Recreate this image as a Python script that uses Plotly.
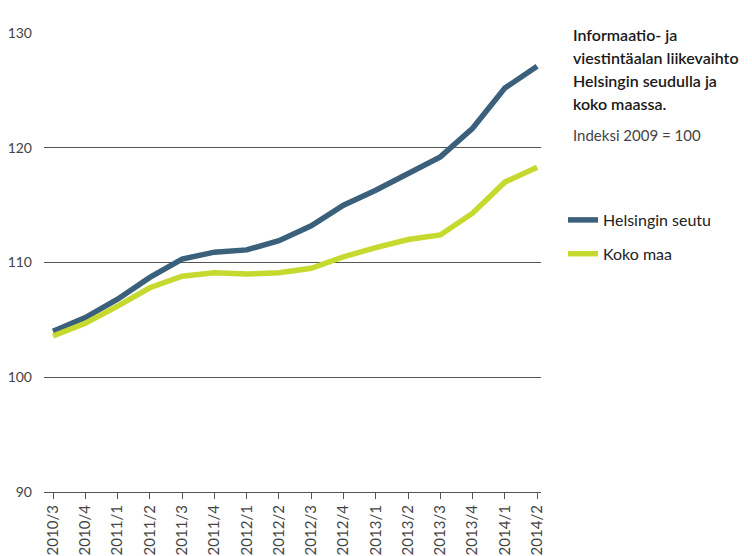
import plotly.graph_objects as go

categories = ["2010/3", "2010/4", "2011/1", "2011/2", "2011/3", "2011/4",
              "2012/1", "2012/2", "2012/3", "2012/4", "2013/1", "2013/2",
              "2013/3", "2013/4", "2014/1", "2014/2"]
helsinki = [104.0, 105.2, 106.8, 108.7, 110.3, 110.9, 111.1, 111.9,
            113.2, 115.0, 116.3, 117.8, 119.2, 121.7, 125.2, 127.1]
koko_maa = [103.6, 104.7, 106.2, 107.8, 108.8, 109.1, 109.0, 109.1,
            109.5, 110.5, 111.3, 112.0, 112.4, 114.3, 117.0, 118.3]
y_ticks = [90, 100, 110, 120, 130]
title_lines = ["Informaatio- ja", "viestintäalan liikevaihto", "Helsingin seudulla ja", "koko maassa."]
subtitle = "Indeksi 2009 = 100"

# page body has an 8px margin, so the figure is drawn 8px in from the window edge
OFF = 8
W, H = 752 - OFF, 556 - OFF
FONT = "Lato"
L, R, T, B = 44 - OFF, 752 - 541, 33 - OFF, 556 - 492


def px_x(px):
    """window pixel -> paper x"""
    return (px - OFF - L) / (W - L - R)


def px_y(py):
    """window pixel -> paper y"""
    return (H - B - (py - OFF)) / (H - T - B)


fig = go.Figure()
fig.add_trace(go.Scatter(x=categories, y=helsinki, mode="lines", name="Helsingin seutu",
                         legendgroup="a", line=dict(color="#3a607b", width=5.5)))
fig.add_trace(go.Scatter(x=categories, y=koko_maa, mode="lines", name="Koko maa",
                         legendgroup="b", line=dict(color="#c5d92e", width=5.5)))

fig.update_layout(
    width=W, height=H,
    margin=dict(l=L, r=R, t=T, b=B),
    paper_bgcolor="white", plot_bgcolor="white",
    font=dict(family=FONT, color="#333"),
    showlegend=True,
    legend=dict(xref="paper", yref="paper", x=px_x(563), xanchor="left",
                y=px_y(203), yanchor="top", font=dict(family=FONT, size=16, color="#222"),
                itemwidth=30, tracegroupgap=10, bgcolor="rgba(0,0,0,0)"),
    xaxis=dict(type="category", range=[-0.28, 15.12], showgrid=False, automargin=False,
               showline=True, linecolor="#555", linewidth=1.2,
               ticks="outside", ticklen=6, tickcolor="#555", tickwidth=1,
               tickangle=-90, tickfont=dict(size=15, color="#444")),
    yaxis=dict(range=[90, 130], tickvals=y_ticks, showgrid=True, gridcolor="#555",
               gridwidth=1, zeroline=False, showline=False, ticks="", automargin=False,
               ticklabelstandoff=11, tickfont=dict(size=14, color="#444")),
)

for i, line in enumerate(title_lines):
    fig.add_annotation(text=line, xref="paper", yref="paper",
                       x=px_x(571), y=px_y(35 + 22.7 * i),
                       xanchor="left", yanchor="middle", align="left", showarrow=False,
                       font=dict(family=FONT, size=16, color="#1a1a1a", weight=600))
fig.add_annotation(text=subtitle, xref="paper", yref="paper",
                   x=px_x(571), y=px_y(135),
                   xanchor="left", yanchor="middle", align="left", showarrow=False,
                   font=dict(family=FONT, size=15, color="#444"))

fig.write_html("out.html")
